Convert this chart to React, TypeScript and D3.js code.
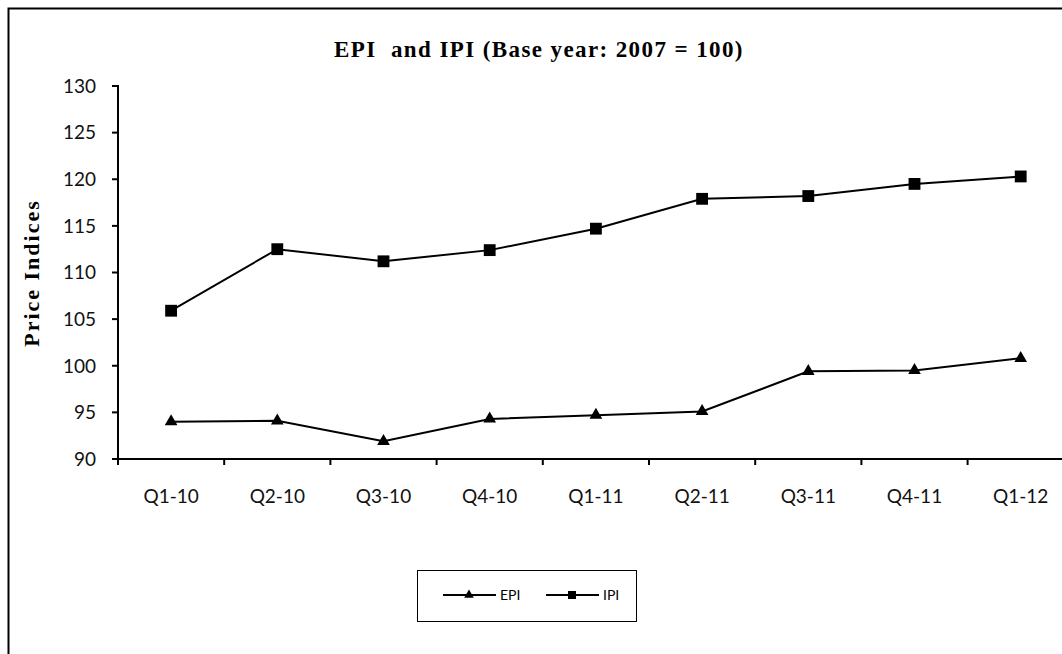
import * as d3 from "d3";

// EPI / IPI quarterly price indices, base year 2007 = 100
const quarters = ["Q1-10", "Q2-10", "Q3-10", "Q4-10", "Q1-11", "Q2-11", "Q3-11", "Q4-11", "Q1-12"];
const epi = [94.0, 94.1, 91.9, 94.3, 94.7, 95.1, 99.4, 99.5, 100.8];
const ipi = [105.9, 112.5, 111.2, 112.4, 114.7, 117.9, 118.2, 119.5, 120.3];
const yTicks = [90, 95, 100, 105, 110, 115, 120, 125, 130];

const W = 1062, H = 654;
const left = 118, top = 86, bottom = 459, band = 106.2;

const sans = "Lato, 'Open Sans', sans-serif";
const serif = "'Liberation Serif', 'Times New Roman', serif";

export default function App() {
  const x = d3.scaleBand<string>().domain(quarters)
    .range([left, left + band * quarters.length]);
  const y = d3.scaleLinear().domain([90, 130]).range([bottom, top]);
  const cx = (q: string) => (x(q) ?? 0) + x.bandwidth() / 2;

  const line = d3.line<number>()
    .x((_, i) => cx(quarters[i]))
    .y((v) => y(v));

  const tri = d3.symbol(d3.symbolTriangle, 70)() ?? "";
  const sq = d3.symbol(d3.symbolSquare, 140)() ?? "";

  return (
    <div style={{ position: "fixed", left: 0, top: 0, width: W, height: H, overflow: "hidden", background: "#fff" }}>
      <svg width={W} height={H} style={{ display: "block" }}>
        <rect x={8.5} y={8.5} width={W + 20} height={H + 20} fill="none" stroke="#000" strokeWidth={2} />

        <text x={539} y={57} textAnchor="middle" fontFamily={serif} fontWeight="bold" fontSize={23}
              letterSpacing={1.4}>
          {"EPI\u00a0 and IPI (Base year: 2007 = 100)"}
        </text>

        <text transform="translate(39,273) rotate(-90)" textAnchor="middle"
              fontFamily={serif} fontWeight="bold" fontSize={22} letterSpacing={2}>Price Indices</text>

        {/* y axis */}
        <line x1={left} x2={left} y1={top - 1} y2={bottom} stroke="#000" strokeWidth={2} />
        {yTicks.map((t) => (
          <g key={t}>
            <line x1={left - 6} x2={left} y1={y(t)} y2={y(t)} stroke="#000" strokeWidth={2} />
            <text x={96} y={y(t)} dy="0.36em" textAnchor="end" fontFamily={sans} fontSize={19} fill="#111">{t}</text>
          </g>
        ))}

        {/* x axis */}
        <line x1={left - 6} x2={W} y1={bottom} y2={bottom} stroke="#000" strokeWidth={2} />
        {quarters.map((q) => (
          <g key={q}>
            <line x1={x(q) ?? 0} x2={x(q) ?? 0} y1={bottom} y2={bottom + 6} stroke="#000" strokeWidth={2} />
            <text x={cx(q)} y={503} textAnchor="middle" fontFamily={sans} fontSize={19} fill="#111">{q}</text>
          </g>
        ))}

        {/* series */}
        <path d={line(ipi) ?? ""} fill="none" stroke="#000" strokeWidth={2} />
        <path d={line(epi) ?? ""} fill="none" stroke="#000" strokeWidth={2} />
        {ipi.map((v, i) => (
          <path key={"i" + i} d={sq} transform={`translate(${cx(quarters[i])},${y(v)})`} fill="#000" />
        ))}
        {epi.map((v, i) => (
          <path key={"e" + i} d={tri} transform={`translate(${cx(quarters[i])},${y(v)})`} fill="#000" />
        ))}

        {/* legend */}
        <rect x={417.5} y={570.5} width={219} height={51} fill="#fff" stroke="#000" strokeWidth={1} />
        <line x1={443} x2={496} y1={595} y2={595} stroke="#000" strokeWidth={2} />
        <path d={d3.symbol(d3.symbolTriangle, 40)() ?? ""} transform="translate(469,595)" fill="#000" />
        <text x={500} y={595} dy="0.36em" fontFamily={sans} fontSize={14}>EPI</text>
        <line x1={546} x2={599} y1={595} y2={595} stroke="#000" strokeWidth={2} />
        <path d={d3.symbol(d3.symbolSquare, 64)() ?? ""} transform="translate(572,595)" fill="#000" />
        <text x={603} y={595} dy="0.36em" fontFamily={sans} fontSize={14}>IPI</text>
      </svg>
    </div>
  );
}
